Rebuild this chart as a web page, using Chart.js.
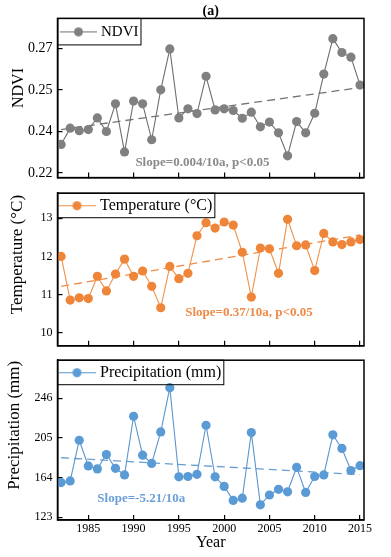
<!DOCTYPE html>
<html><head><meta charset="utf-8">
<script src="https://cdn.jsdelivr.net/npm/chart.js@4.4.0/dist/chart.umd.min.js"></script>
<style>
html,body{margin:0;padding:0;background:#fff;}
#wrap{position:relative;width:391px;height:557px;overflow:hidden;background:#fff;}
canvas{position:absolute;left:0;}
</style></head><body>
<div id="wrap"><canvas id="c1"></canvas><canvas id="c2"></canvas><canvas id="c3"></canvas></div>
<script>
const years = [1982,1983,1984,1985,1986,1987,1988,1989,1990,1991,1992,1993,1994,1995,1996,1997,1998,1999,2000,2001,2002,2003,2004,2005,2006,2007,2008,2009,2010,2011,2012,2013,2014,2015];
const ndvi = [0.2303,0.2362,0.2353,0.2357,0.2399,0.2350,0.2450,0.2276,0.2460,0.2450,0.2320,0.2501,0.2649,0.2399,0.2432,0.2415,0.2550,0.2428,0.2432,0.2426,0.2398,0.2420,0.2367,0.2384,0.2345,0.2262,0.2386,0.2345,0.2416,0.2558,0.2686,0.2636,0.2619,0.2518];
const temperature = [12.00,10.86,10.92,10.90,11.48,11.10,11.54,11.93,11.48,11.62,11.22,10.66,11.74,11.42,11.56,12.54,12.88,12.74,12.90,12.82,12.11,10.94,12.22,12.20,11.56,12.97,12.28,12.30,11.63,12.60,12.38,12.31,12.38,12.44];
const precipitation = [158.7,160.4,202.5,175.9,172.9,187.7,173.5,166.6,227.2,187.1,178.5,211.1,256.9,164.7,165.0,167.3,218.0,164.7,154.8,140.3,142.6,210.4,135.7,145.9,151.8,149.2,174.5,148.5,165.0,166.6,208.1,194.0,171.2,176.2];
const trendYears = [1982, 2015];
const ndviTrend = [0.2357, 0.2509];
const tempTrend = [11.22, 12.56];
const precipTrend = [184.4, 167.0];
const yearTicks = [1985,1990,1995,2000,2005,2010,2015];
const ndviTicks = [0.22,0.235,0.25,0.265];
const ndviTickLabels = ['0.22','0.24','0.25','0.27'];
const tempTicks = [10,11,12,13];
const tempTickLabels = ['10','11','12','13'];
const precipTicks = [123,164,205,246];
const precipTickLabels = ['123','164','205','246'];
const seriesNames = ['NDVI','Temperature (\u00B0C)','Precipitation (mm)'];
const axisTitles = ['NDVI','Temperature (\u00B0C)','Precipitation (mm)'];
const slopeTexts = ['Slope=0.004/10a, p<0.05','Slope=0.37/10a, p<0.05','Slope=-5.21/10a'];

const FONT = '"Liberation Serif", "Times New Roman", serif';
const NB = '\u00A0';

function legendIcon(lineColor, dotColor){
  const c = document.createElement('canvas'); c.width = 37; c.height = 11;
  const g = c.getContext('2d');
  g.strokeStyle = lineColor; g.lineWidth = 1.2;
  g.beginPath(); g.moveTo(0,5.5); g.lineTo(37,5.5); g.stroke();
  g.fillStyle = dotColor; g.beginPath(); g.arc(18.5,5.5,4.5,0,Math.PI*2); g.fill();
  return c;
}

const framePlugin = {
  id:'frame',
  beforeDraw(chart){
    const lg = chart.legend;
    if (lg){
      lg.top = chart.chartArea.top;
      lg.bottom = lg.top + lg.height;
    }
  },
  afterDraw(chart, args, opts){
    const a = chart.chartArea, ctx = chart.ctx;
    ctx.save();
    ctx.strokeStyle = '#000';
    const lg = chart.legend;
    if (lg && lg.legendHitBoxes && lg.legendHitBoxes.length){
      const hb = lg.legendHitBoxes[0];
      const pad = lg.options.labels.padding;
      ctx.lineWidth = 1;
      ctx.strokeRect(a.left, a.top, pad + hb.width + opts.legendRight, pad + hb.height + opts.legendBottom);
    }
    ctx.lineWidth = 1.5;
    ctx.strokeRect(a.left, a.top, a.right - a.left, a.bottom - a.top);
    ctx.restore();
  }
};
const slopePlugin = {
  id:'slope',
  afterDatasetsDraw(chart, args, opts){
    const ctx = chart.ctx;
    ctx.save();
    ctx.font = 'bold 13px ' + FONT;
    ctx.fillStyle = opts.color;
    ctx.textAlign = 'left'; ctx.textBaseline = 'middle';
    ctx.fillText(opts.text, chart.scales.x.getPixelForValue(opts.x), chart.scales.y.getPixelForValue(opts.y));
    ctx.restore();
  }
};

function panel(id, o){
  const cv = document.getElementById(id);
  cv.width = 391; cv.height = o.h; cv.style.top = o.top + 'px';
  return new Chart(cv, {
    type:'line',
    data:{datasets:[
      {label:o.label, data: years.map((y,i)=>({x:y, y:o.values[i]})), borderColor:o.line,
       backgroundColor:o.dot, pointBackgroundColor:o.dot, pointBorderColor:o.dot,
       pointRadius:4.6, pointBorderWidth:0, borderWidth:1.1, tension:0},
      {label:'trend', data: trendYears.map((y,i)=>({x:y, y:o.trend[i]})), borderColor:o.trendColor,
       borderDash:[8,5], borderWidth:1.3, pointRadius:0, tension:0}
    ]},
    options:{
      responsive:false, animation:false, devicePixelRatio:1,
      layout:{padding:{left:o.padL, right:27, top:o.padT, bottom:o.padB}},
      plugins:{
        legend:{display:true, position:'chartArea', align:'start',
          labels:{usePointStyle:true, pointStyle:legendIcon(o.line, o.dot), pointStyleWidth:30, boxHeight:12,
            padding:o.legPad, color:'#000', font:{family:FONT, size:o.legFont},
            filter:(item)=>item.datasetIndex===0}},
        title:{display:o.title, text:'(a)', fullSize:false, color:'#000',
          font:{family:FONT, size:14, weight:'bold', lineHeight:1}, padding:{top:2, bottom:0}},
        tooltip:{enabled:false},
        frame:{legendRight:2.5, legendBottom:o.legBottom},
        slope:{text:o.slope, x:o.slopeX, y:o.slopeY, color:o.slopeColor}
      },
      scales:{
        x:{type:'linear', min:1981.6, max:2015.44,
          afterBuildTicks:(s)=>{ s.ticks = yearTicks.map(v=>({value:v})); },
          afterFit:(s)=>{ s.height = o.xH; },
          ticks:{display:o.showX, autoSkip:false, maxRotation:0, padding:8, color:'#000',
            font:{family:FONT, size:12, lineHeight:1}, callback:(v)=>String(v)},
          grid:{display:true, drawOnChartArea:false, drawTicks:true, tickLength:-5, color:'#000', lineWidth:1.2},
          border:{display:true, color:'#000', width:1.5},
          title:{display:o.showX, text:'Year', color:'#000', font:{family:FONT, size:16, lineHeight:1}, padding:{top:0, bottom:0}}
        },
        y:{type:'linear', min:o.min, max:o.max,
          afterBuildTicks:(s)=>{ s.ticks = o.ticks.map(v=>({value:v})); },
          afterFit:(s)=>{ s.width = 57.5 - o.padL; },
          ticks:{padding:10, color:'#000', font:{family:FONT, size:o.yFont}, callback:(v,i)=>o.tickLabels[i]},
          grid:{display:true, drawOnChartArea:false, drawTicks:true, tickLength:-5, color:'#000', lineWidth:1.2},
          border:{display:true, color:'#000', width:1.5},
          title:{display:true, text:NB.repeat(o.shift) + o.axisTitle, color:'#000', font:{family:FONT, size:o.titleSize, lineHeight:1.2}, padding:{top:0, bottom:0}}
        }
      }
    },
    plugins:[framePlugin, slopePlugin]
  });
}

panel('c1', {h:196, top:0, padL:9.4, padT:0, padB:10, xH:0, showX:false, title:true,
  label:seriesNames[0], values:ndvi, trend:ndviTrend, line:'#6e6e6e', dot:'#808080', trendColor:'#747474',
  min:0.2183, max:0.27595, ticks:ndviTicks, tickLabels:ndviTickLabels, yFont:14, axisTitle:axisTitles[0], shift:5, titleSize:16,
  legPad:6, legBottom:5.5, legFont:15, slope:slopeTexts[0], slopeX:1990.2, slopeY:0.2237, slopeColor:'#8a8a8a'});
panel('c2', {h:187, top:176, padL:7.8, padT:10, padB:10, xH:0, showX:false, title:false,
  label:seriesNames[1], values:temperature, trend:tempTrend, line:'#F0914A', dot:'#EE8538', trendColor:'#EF8C48',
  min:9.666, max:13.652, ticks:tempTicks, tickLabels:tempTickLabels, yFont:12, axisTitle:axisTitles[1], shift:7, titleSize:17,
  legPad:4.5, legBottom:4, legFont:16, slope:slopeTexts[1], slopeX:1995.7, slopeY:10.52, slopeColor:'#EF8A48'});
panel('c3', {h:214, top:343, padL:4.8, padT:10, padB:6, xH:31, showX:true, title:false,
  label:seriesNames[2], values:precipitation, trend:precipTrend, line:'#5B95CF', dot:'#5B9BD5', trendColor:'#6A9ED3',
  min:120.03, max:285.28, ticks:precipTicks, tickLabels:precipTickLabels, yFont:12, axisTitle:axisTitles[2], shift:7, titleSize:17,
  legPad:4.5, legBottom:4, legFont:16, slope:slopeTexts[2], slopeX:1986.0, slopeY:141.8, slopeColor:'#6B9FD8'});
</script>
</body></html>
